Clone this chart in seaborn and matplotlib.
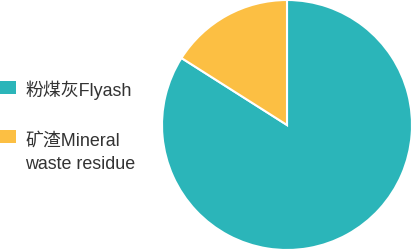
import matplotlib
matplotlib.use("Agg")
import matplotlib.pyplot as plt
from matplotlib.patches import Rectangle
import seaborn as sns

sns.set_theme(style="white")
plt.rcParams['font.family'] = ['Liberation Sans Narrow', 'Liberation Sans', 'Noto Sans CJK SC']

labels = ["粉煤灰Flyash", "矿渣Mineral\nwaste residue"]
values = [84, 16]
colors = ["#2bb5b9", "#fcbf43"]

W, H = 413, 250
fig = plt.figure(figsize=(W / 100, H / 100), dpi=100)
ax = fig.add_axes([(287 - 126) / W, 0, 252 / W, 1])
wedges, _ = ax.pie(values, colors=colors, startangle=90, counterclock=False,
                   radius=1.0, wedgeprops=dict(edgecolor="white", linewidth=1.5))
ax.set_xlim(-1.0, 1.0)
ax.set_ylim(-1.0, 1.0)
ax.set_aspect("equal")
ax.axis("off")

# manual legend (handle aligned with first text line)
handle_centers = [87.7, 136.4]   # px from top
first_baselines = [95.5, 145.5]
line_step = 23.3
for lab, col, hc, bl in zip(labels, colors, handle_centers, first_baselines):
    fig.patches.append(Rectangle((0, (H - hc - 6.3) / H), 16 / W, 12.6 / H,
                                 transform=fig.transFigure, facecolor=col,
                                 edgecolor="none"))
    for i, line in enumerate(lab.split("\n")):
        fig.text(25 / W, (H - bl - i * line_step) / H, line, ha="left",
                 va="baseline", fontsize=12.9, color="#333333")

fig.savefig("out.png", dpi=100)
